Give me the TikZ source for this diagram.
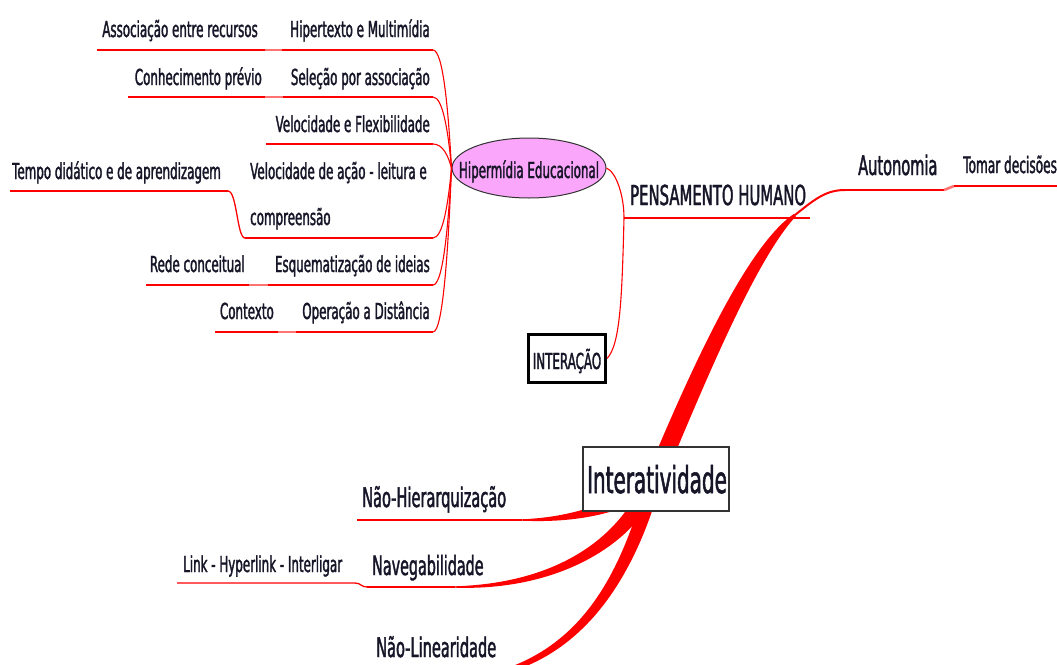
\documentclass[tikz,border=0pt]{standalone}
\usepackage{fontspec}
\setmainfont{DejaVu Sans}[FakeStretch=0.54, FakeBold=1.5]
\usetikzlibrary{calc,shapes.geometric}

\definecolor{ink}{RGB}{22,22,40}
\definecolor{branch}{RGB}{255,0,0}
\definecolor{bubble}{RGB}{250,166,250}

% tapered branch: centre line P0..P3 (Bezier); half widths at P0/P1, at P2 and at P3
\newcommand{\taperedbranch}[7]{%
  \fill[branch] ($(#1)!#5!90:(#2)$) .. controls ($(#2)!#5!-90:(#1)$) and ($(#3)!#6!90:(#4)$) .. ($(#4)!#7!-90:(#3)$)
    -- ($(#4)!#7!90:(#3)$) .. controls ($(#3)!#6!-90:(#4)$) and ($(#2)!#5!90:(#1)$) .. ($(#1)!#5!-90:(#2)$) -- cycle;}

\tikzset{
  lbl/.style={inner sep=0pt, text=ink, font=\fontsize{22}{26}\selectfont},
  edge/.style={draw=branch, line width=1.3pt},
  joint/.style={draw=branch!55, line width=2.6pt},
  fork/.style={draw=branch, line width=1.1pt},
}

\begin{document}
\begin{tikzpicture}[x=1pt,y=-1pt]
\useasboundingbox (0,0) rectangle (1057,664);
\fill[white] (0,0) rectangle (1057,664);

% ---------- Hipermidia Educacional and its branches ----------
\node[ellipse, draw=black!80, line width=1pt, fill=bubble, minimum width=154pt, minimum height=60pt, inner sep=0pt] (hyp) at (529,168) {};
\node[lbl, anchor=base] (hyptxt) at (529,178) {Hipermídia Educacional};
\coordinate (hub) at (hyp.west);

% parent underlines (right end at x=433)
\foreach \n/\xa/\y in {r1/282/50, r2/283/97, r3/266/144, r4/245/238, r5/268/285, r6/296/332}{
  \coordinate (\n s) at (\xa,\y);
  \coordinate (\n e) at (433,\y);
}
\foreach \n in {r1,r2,r3,r4,r5,r6}{
  \draw[edge] (\n s) -- (\n e);
  \draw[fork] (\n e) .. controls ($(\n e)+(10,0)$) and ($(\n e)!0.5!(hub)+(6,0)$) .. (hub);
}

\node[lbl, anchor=base east] (hm) at (430,37) {Hipertexto e Multimídia};
\node[lbl, anchor=base east] (sa) at (430,85) {Seleção por associação};
\node[lbl, anchor=base east] (vf) at (430,132) {Velocidade e Flexibilidade};
\node[lbl, anchor=base west] (va) at (250,179) {Velocidade de ação - leitura e};
\node[lbl, anchor=base west] (vb) at (250,225) {compreensão};
\node[lbl, anchor=base east] (ei) at (430,272) {Esquematização de ideias};
\node[lbl, anchor=base east] (od) at (430,319) {Operação a Distância};

% child labels and their underlines
\coordinate (c1s) at (97,50);  \coordinate (c1e) at (265,50);
\coordinate (c2s) at (128,97); \coordinate (c2e) at (265,97);
\coordinate (c4s) at (10,191); \coordinate (c4e) at (228,191);
\coordinate (c5s) at (146,285); \coordinate (c5e) at (249,285);
\coordinate (c6s) at (215,332); \coordinate (c6e) at (278,332);
\draw[edge] (c1s) -- (c1e);
\draw[edge] (c2s) -- (c2e);
\draw[edge] (c4s) -- (c4e);
\draw[edge] (c5s) -- (c5e);
\draw[edge] (c6s) -- (c6e);
\draw[joint] (c1e) -- (r1s);
\draw[joint] (c2e) -- (r2s);
\draw[joint] (c5e) -- (r5s);
\draw[joint] (c6e) -- (r6s);
\draw[edge] (c4e) .. controls (237,191) and (237,238) .. (r4s);

\node[lbl, anchor=base east] (ar) at (258,37) {Associação entre recursos};
\node[lbl, anchor=base east] (cp) at (262,85) {Conhecimento prévio};
\node[lbl, anchor=base west] (td) at (12,179) {Tempo didático e de aprendizagem};
\node[lbl, anchor=base east] (rc) at (245,272) {Rede conceitual};
\node[lbl, anchor=base east] (ct) at (274,319) {Contexto};

% ---------- PENSAMENTO HUMANO and INTERACAO ----------
\coordinate (phs) at (624,218);
\coordinate (phe) at (810,218);
\draw[edge] (phs) -- (phe);
\node[lbl, anchor=base west, font=\fontsize{27.5}{32}\selectfont] (ph) at (630,205) {PENSAMENTO HUMANO};

\node[draw=black, line width=3pt, fill=white, minimum width=77pt, minimum height=48pt, inner sep=0pt] (iabox) at (567,358.5) {};
\node[lbl, anchor=base] (ia) at (567,369) {INTERAÇÃO};

\draw[fork] (hyp.east) .. controls (616,172) and (624,195) .. (phs);
\draw[fork] (phs) .. controls (622,300) and (620,345) .. (iabox.east);

% ---------- Interatividade and its thick branches ----------
\coordinate (u0) at (650,490); \coordinate (u1) at (690,395);
\coordinate (u2) at (748,255); \coordinate (u3) at (795,215);
\taperedbranch{u0}{u1}{u2}{u3}{9pt}{8.5pt}{1.5pt}
\coordinate (aus) at (845,190);
\draw[branch, line width=2pt] (u3) .. controls (815,199) and (826,190) .. (aus);

\coordinate (h0) at (648,488); \coordinate (h1) at (615,508);
\coordinate (h2) at (575,520); \coordinate (h3) at (522,520);
\taperedbranch{h0}{h1}{h2}{h3}{7pt}{3pt}{0.7pt}

\coordinate (n0) at (645,495); \coordinate (n1) at (622,540);
\coordinate (n2) at (560,587); \coordinate (n3) at (455,587);
\taperedbranch{n0}{n1}{n2}{n3}{8pt}{4pt}{0.7pt}

\coordinate (l0) at (650,495); \coordinate (l1) at (628,565);
\coordinate (l2) at (590,650); \coordinate (l3) at (495,674);
\taperedbranch{l0}{l1}{l2}{l3}{7pt}{4.5pt}{2pt}

\node[draw=black!80, line width=1.5pt, fill=white, minimum width=146pt, minimum height=64pt, inner sep=0pt] (itbox) at (656,479) {};
\node[lbl, anchor=base, font=\fontsize{37}{42}\selectfont] (it) at (657,493) {Interatividade};

% left-hand branch labels
\coordinate (nhs) at (357,520);
\draw[edge] (nhs) -- (h3);
\node[lbl, anchor=base west, font=\fontsize{27}{31}\selectfont] (nh) at (362,507) {Não-Hierarquização};

\coordinate (nvs) at (367,587);
\draw[edge] (nvs) -- (n3);
\node[lbl, anchor=base west, font=\fontsize{26.5}{30}\selectfont] (nv) at (372,575) {Navegabilidade};

\coordinate (lks) at (177,583);
\coordinate (lke) at (355,583);
\draw[edge] (lks) -- (lke) .. controls (361,583) and (361,587) .. (nvs);
\node[lbl, anchor=base west, font=\fontsize{22}{26}\selectfont] (lk) at (183,572) {Link - Hyperlink - Interligar};

\node[lbl, anchor=base west, font=\fontsize{27}{31}\selectfont] (nl) at (376,657) {Não-Linearidade};

% ---------- Autonomia ----------
\coordinate (aue) at (944,190);
\coordinate (tds) at (954,186);
\coordinate (tde) at (1060,186);
\draw[edge] (aus) -- (aue);
\draw[joint] (aue) -- (tds);
\draw[edge] (tds) -- (tde);
\node[lbl, anchor=base west, font=\fontsize{27}{31}\selectfont] (au) at (858,175) {Autonomia};
\node[lbl, anchor=base west, font=\fontsize{22.5}{26}\selectfont] (td2) at (963,173) {Tomar decisões};

\end{tikzpicture}
\end{document}
